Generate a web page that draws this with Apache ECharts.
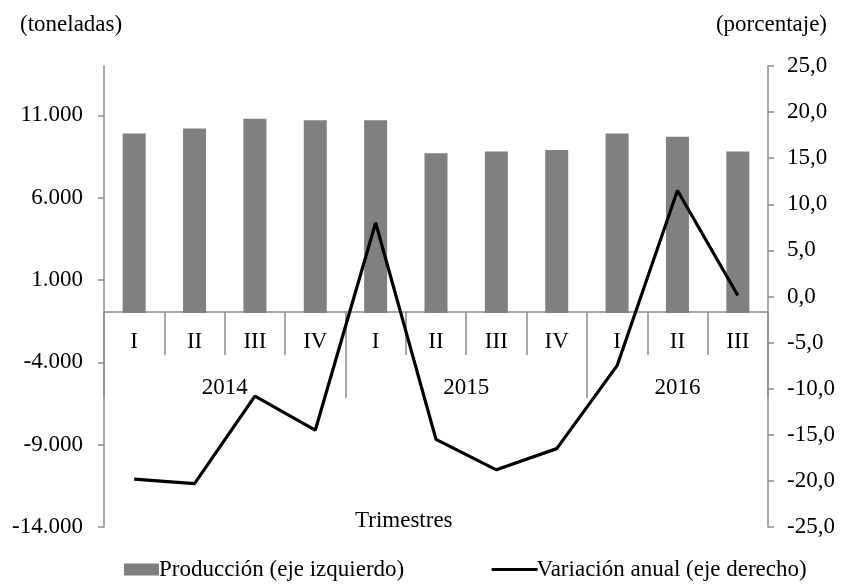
<!DOCTYPE html>
<html>
<head>
<meta charset="utf-8">
<script src="https://cdn.jsdelivr.net/npm/echarts@6/dist/echarts.min.js"></script>
<style>
  html, body { margin: 0; padding: 0; background: #fff; }
  #chart { width: 842px; height: 586px; }
</style>
</head>
<body>
<div id="chart"></div>
<script>
const quarters = ['I', 'II', 'III', 'IV', 'I', 'II', 'III', 'IV', 'I', 'II', 'III']
const years = ['2014', '2015', '2016']
const quartersPerYear = [4, 4, 3]
const produccion = [9900, 10200, 10800, 10700, 10700, 8700, 8800, 8900, 9900, 9700, 8800]
const variacion = [-19.8, -20.3, -10.8, -14.5, 8.0, -15.5, -18.8, -16.5, -7.5, 11.5, 0.1]
const leftTicks = [-14000, -9000, -4000, 1000, 6000, 11000]
const rightTicks = [-25, -20, -15, -10, -5, 0, 5, 10, 15, 20, 25]

const font = 'Liberation Serif'
const fs = 23
const axisGray = '#8c8c8c'

// year axis: half-quarter points, years labelled at the middle of their group
const yearPoints = []
const yearLabelIdx = []
const yearTickIdx = [0]
let start = 0
for (let i = 0; i < years.length; i++) {
  yearLabelIdx.push(start * 2 + quartersPerYear[i])
  start += quartersPerYear[i]
  yearTickIdx.push(start * 2)
}
for (let k = 0; k <= quarters.length * 2; k++) {
  const y = yearLabelIdx.indexOf(k)
  yearPoints.push(y >= 0 ? years[y] : 'p' + k)
}

const fmtLeft = v => {
  const s = Math.abs(v).toString().replace(/\B(?=(\d{3})+(?!\d))/g, '.')
  return (v < 0 ? '-' : '') + s
}
const fmtRight = v => v.toFixed(1).replace('.', ',')

const txt = { fontFamily: font, fontSize: fs, fontWeight: 'normal', color: '#000' }

const chart = echarts.init(document.getElementById('chart'))
chart.setOption({
  animation: false,
  textStyle: { fontFamily: font, color: '#000' },
  title: [
    { text: '(toneladas)', left: 15, top: 8, textStyle: txt },
    { text: '(porcentaje)', right: 10, top: 8, textStyle: txt },
    { text: 'Trimestres', left: 350, top: 504, textStyle: txt }
  ],
  legend: [
    {
      left: 119,
      top: 553,
      itemWidth: 35,
      itemHeight: 12,
      textStyle: { fontFamily: font, fontSize: fs, color: '#000', padding: [0, 0, 0, -5] },
      data: [{ name: 'Producción (eje izquierdo)', icon: 'rect' }]
    },
    {
      left: 485,
      top: 553,
      itemWidth: 46,
      itemHeight: 12,
      textStyle: { fontFamily: font, fontSize: fs, color: '#000', padding: [0, 0, 0, -6] },
      data: [{
        name: 'Variación anual (eje derecho)',
        itemStyle: { opacity: 0 },
        lineStyle: { width: 3.2, color: '#000' }
      }]
    }
  ],
  grid: { left: 104, right: 74, top: 66, bottom: 59 },
  xAxis: [
    {
      type: 'category',
      data: quarters,
      position: 'bottom',
      offset: -215,
      axisLine: { onZero: false, lineStyle: { color: axisGray, width: 1.5 } },
      axisTick: { show: true, interval: 0, length: 43, lineStyle: { color: axisGray, width: 1.5 } },
      axisLabel: { margin: 18, fontSize: fs, color: '#000', fontFamily: font, interval: 0 }
    },
    {
      type: 'category',
      data: yearPoints,
      boundaryGap: false,
      position: 'bottom',
      offset: -215,
      axisLine: { show: false, onZero: false },
      axisTick: {
        length: 86,
        interval: idx => yearTickIdx.indexOf(idx) >= 0,
        lineStyle: { color: axisGray, width: 1.5 }
      },
      axisLabel: {
        margin: 64,
        fontSize: fs,
        color: '#000',
        fontFamily: font,
        interval: idx => yearLabelIdx.indexOf(idx) >= 0
      }
    }
  ],
  yAxis: [
    {
      type: 'value',
      min: -14000,
      max: 14000,
      startValue: -1000,
      splitLine: { show: false },
      axisLine: { show: true, lineStyle: { color: axisGray, width: 1.5 } },
      axisTick: { show: true, length: 6, customValues: leftTicks, lineStyle: { color: axisGray, width: 1.5 } },
      axisLabel: { margin: 21, fontSize: fs, color: '#000', fontFamily: font, customValues: leftTicks, formatter: fmtLeft }
    },
    {
      type: 'value',
      min: -25,
      max: 25,
      interval: 5,
      position: 'right',
      splitLine: { show: false },
      axisLine: { show: true, lineStyle: { color: axisGray, width: 1.5 } },
      axisTick: { show: true, length: 6, customValues: rightTicks, lineStyle: { color: axisGray, width: 1.5 } },
      axisLabel: { margin: 19, fontSize: fs, color: '#000', fontFamily: font, customValues: rightTicks, formatter: fmtRight }
    }
  ],
  series: [
    {
      name: 'Producción (eje izquierdo)',
      type: 'bar',
      xAxisIndex: 0,
      yAxisIndex: 0,
      barWidth: 23,
      itemStyle: { color: '#808080' },
      data: produccion
    },
    {
      name: 'Variación anual (eje derecho)',
      type: 'line',
      xAxisIndex: 0,
      yAxisIndex: 1,
      symbol: 'none',
      z: 5,
      lineStyle: { color: '#000', width: 3.2 },
      itemStyle: { color: '#000' },
      data: variacion
    }
  ]
})
</script>
</body>
</html>
